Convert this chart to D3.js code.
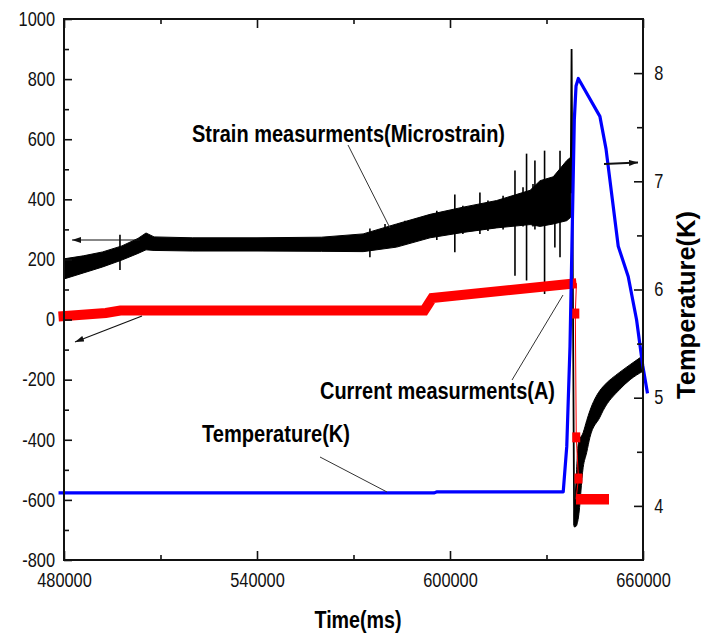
<!DOCTYPE html>
<html lang="en">
<head>
<meta charset="UTF-8">
<title>Strain, current and temperature vs time</title>
<script src="https://d3js.org/d3.v7.min.js"></script>
<style>
  body { margin: 0; background: #fff; }
  svg { display: block; font-family: "Liberation Sans", Arial, sans-serif; }
  .tick text { font-size: 19.5px; fill: #111; }
  .tick line { stroke: #111; stroke-width: 1.6; }
</style>
</head>
<body>
<svg width="705" height="633"></svg>
<script>
// ---- values ----
// strain: noisy band (low / high envelope), microstrain
const strainTime = [480000, 486000, 492000, 498000, 503000, 505500, 508000, 520000, 540000, 560000, 573000, 583400, 593800, 604100, 614500, 624900, 628000, 632100, 636300, 637500];
const strainLow  = [135, 155, 175, 198, 220, 232, 230, 228, 228, 227, 226, 241, 272, 290, 305, 316, 310, 318, 329, 340];
const strainHigh = [202, 212, 225, 245, 270, 288, 275, 272, 272, 274, 285, 318, 350, 374, 396, 430, 462, 475, 529, 540];

// isolated spikes in the strain signal
const spikeTime = [497400, 575100, 579800, 586000, 595900, 601500, 604000, 609300, 611800, 616500, 620200, 622700, 623800, 625800, 626400, 629400, 632600, 634200];
const spikeLow  = [165, 207, 238, 250, 265, 224, 285, 285, 295, 300, 146, 310, 130, 310, 300, 85, 240, 207];
const spikeHigh = [282, 303, 318, 329, 362, 416, 379, 423, 396, 412, 496, 440, 552, 451, 529, 562, 480, 562];

// the quench: strain jumps to 900 then drops
const dropTime = [637500, 637800, 638600];
const dropVal  = [420, 900, -685];

// strain recovery after the quench
const recoveryTime = [638600, 639200, 639900, 641400, 642500, 643500, 646600, 647600, 652800, 656000, 660000];
const recoveryHigh = [-650, -535, -412, -376, -336, -303, -236, -223, -175, -150, -120];
const recoveryLow  = [-690, -688, -660, -492, -442, -392, -325, -303, -232, -200, -172];

// current (A)
const currentTime = [478300, 493000, 497500, 592000, 593200, 594500, 639300];
const currentVal  = [10, 22, 30, 30, 50, 72, 121];
const currentDropTime = [638960, 639250, 639940];
const currentDropVal  = [20, -392, -529];
const currentTailTime = [639170, 649430];
const currentTailVal  = [-598, -598];

// temperature (K), right axis
const tempTime = [478300, 595000, 596000, 635200, 636300, 637300, 637900, 638650, 639180, 639890, 646600, 648500, 652300, 655400, 658000, 659900, 661400];
const tempVal  = [4.12, 4.12, 4.13, 4.13, 4.55, 5.47, 6.4, 7.57, 7.88, 7.95, 7.60, 7.30, 6.40, 6.12, 5.72, 5.30, 5.04];

// axis ticks
const xTicks = [480000, 540000, 600000, 660000];
const xMinor = [510000, 570000, 630000];
const yTicks = [-800, -600, -400, -200, 0, 200, 400, 600, 800, 1000];
const yMinor = [-700, -500, -300, -100, 100, 300, 500, 700, 900];
const tTicks = [4, 5, 6, 7, 8];
const tMinor = [4.5, 5.5, 6.5, 7.5];

const svg = d3.select("svg");

const x = d3.scaleLinear().domain([480000, 660000]).range([64, 643]);
const yL = d3.scaleLinear().domain([-800, 1000]).range([560, 19]);
const yR = d3.scaleLinear().domain([3.5, 8.5]).range([560, 19]);

const zip = (t, a, b) => t.map((d, i) => ({ t: d, a: a[i], b: b ? b[i] : null }));

// ---- strain (black) ----
const band = d3.area().x(d => x(d.t)).y0(d => yL(d.a)).y1(d => yL(d.b));

svg.append("path")
    .datum(zip(strainTime, strainLow, strainHigh))
    .attr("d", band)
    .attr("fill", "#000").attr("stroke", "#000").attr("stroke-width", 1);

svg.selectAll(".spike")
    .data(zip(spikeTime, spikeLow, spikeHigh))
    .enter().append("line")
    .attr("class", "spike")
    .attr("x1", d => x(d.t)).attr("x2", d => x(d.t))
    .attr("y1", d => yL(d.a)).attr("y2", d => yL(d.b))
    .attr("stroke", "#000").attr("stroke-width", 1.6);

svg.append("path")
    .datum(zip(dropTime, dropVal))
    .attr("d", d3.line().x(d => x(d.t)).y(d => yL(d.a)))
    .attr("fill", "none").attr("stroke", "#000").attr("stroke-width", 1.8);

svg.append("path")
    .datum(zip(recoveryTime, recoveryLow, recoveryHigh))
    .attr("d", band.curve(d3.curveMonotoneX))
    .attr("fill", "#000").attr("stroke", "#000").attr("stroke-width", 1);

// ---- current (red) ----
const lineL = d3.line().x(d => x(d.t)).y(d => yL(d.a));

svg.append("path")
    .datum(zip(currentTime, currentVal))
    .attr("d", lineL)
    .attr("fill", "none").attr("stroke", "#ff0000").attr("stroke-width", 10);

// thin trace through the sparse samples of the drop
const dropTrace = zip(currentTime.slice(-1), currentVal.slice(-1))
    .concat(zip(currentDropTime, currentDropVal))
    .concat(zip(currentTailTime.slice(0, 1), currentTailVal.slice(0, 1)));
svg.append("path")
    .datum(dropTrace)
    .attr("d", lineL)
    .attr("fill", "none").attr("stroke", "#ff0000").attr("stroke-width", 1);

svg.selectAll(".cdrop")
    .data(zip(currentDropTime, currentDropVal))
    .enter().append("rect")
    .attr("class", "cdrop")
    .attr("x", d => x(d.t) - 4).attr("y", d => yL(d.a) - 5)
    .attr("width", 8).attr("height", 10)
    .attr("fill", "#ff0000");

svg.append("path")
    .datum(zip(currentTailTime, currentTailVal))
    .attr("d", lineL)
    .attr("fill", "none").attr("stroke", "#ff0000").attr("stroke-width", 10.5);

// ---- temperature (blue) ----
svg.append("path")
    .datum(zip(tempTime, tempVal))
    .attr("d", d3.line().x(d => x(d.t)).y(d => yR(d.a)))
    .attr("fill", "none").attr("stroke", "#0000ff").attr("stroke-width", 3.2)
    .attr("stroke-linejoin", "round");

// ---- axes ----
const sx = 0.84;
const plain = d => String(d);
const noDomain = g => g.select(".domain").remove();

svg.append("g").attr("transform", "translate(0,560)")
    .call(d3.axisBottom(x).tickValues(xTicks).tickSize(-9).tickPadding(13).tickFormat(plain))
    .call(noDomain)
    .call(g => g.selectAll("text").attr("transform", `scale(${sx},1)`));
svg.append("g").attr("transform", "translate(0,560)")
    .call(d3.axisBottom(x).tickValues(xMinor).tickSize(-5).tickFormat(""))
    .call(noDomain);
svg.append("g").attr("transform", "translate(0,19)")
    .call(d3.axisTop(x).tickValues(xTicks).tickSize(-9).tickFormat(""))
    .call(noDomain);
svg.append("g").attr("transform", "translate(0,19)")
    .call(d3.axisTop(x).tickValues(xMinor).tickSize(-5).tickFormat(""))
    .call(noDomain);

svg.append("g").attr("transform", "translate(64,0)")
    .call(d3.axisLeft(yL).tickValues(yTicks).tickSize(-8).tickPadding(10.7).tickFormat(plain))
    .call(noDomain)
    .call(g => g.selectAll("text").attr("transform", `scale(${sx},1)`));
svg.append("g").attr("transform", "translate(64,0)")
    .call(d3.axisLeft(yL).tickValues(yMinor).tickSize(-5).tickFormat(""))
    .call(noDomain);

svg.append("g").attr("transform", "translate(643,0)")
    .call(d3.axisRight(yR).tickValues(tTicks).tickSize(-9).tickPadding(13.5).tickFormat(plain))
    .call(noDomain)
    .call(g => g.selectAll("text").attr("transform", `scale(${sx},1)`));
svg.append("g").attr("transform", "translate(643,0)")
    .call(d3.axisRight(yR).tickValues(tMinor).tickSize(-6).tickFormat(""))
    .call(noDomain);

svg.append("rect")
    .attr("x", 64).attr("y", 19).attr("width", 579).attr("height", 541)
    .attr("fill", "none").attr("stroke", "#111").attr("stroke-width", 2);

// ---- titles ----
svg.append("text")
    .attr("x", 358).attr("y", 628).attr("text-anchor", "middle")
    .attr("font-size", 23).attr("font-weight", "bold")
    .attr("textLength", 87).attr("lengthAdjust", "spacingAndGlyphs")
    .text("Time(ms)");

svg.append("text")
    .attr("transform", "translate(695,305) rotate(-90)")
    .attr("text-anchor", "middle")
    .attr("font-size", 25).attr("font-weight", "bold")
    .attr("textLength", 188).attr("lengthAdjust", "spacingAndGlyphs")
    .text("Temperature(K)");

// ---- annotations ----
const notes = [
  { text: "Strain measurments(Microstrain)", x: 192, y: 142, len: 313, from: [348, 145], to: [390, 228] },
  { text: "Current measurments(A)", x: 320, y: 399, len: 235, from: [512, 380], to: [563, 295] },
  { text: "Temperature(K)", x: 202, y: 442, len: 148, from: [320, 457], to: [387, 492] }
];

svg.selectAll(".note")
    .data(notes)
    .enter().append("text")
    .attr("class", "note")
    .attr("x", d => d.x).attr("y", d => d.y)
    .attr("font-size", 23).attr("font-weight", "bold")
    .attr("textLength", d => d.len).attr("lengthAdjust", "spacingAndGlyphs")
    .text(d => d.text);

svg.selectAll(".leader")
    .data(notes)
    .enter().append("line")
    .attr("class", "leader")
    .attr("x1", d => d.from[0]).attr("y1", d => d.from[1])
    .attr("x2", d => d.to[0]).attr("y2", d => d.to[1])
    .attr("stroke", "#333").attr("stroke-width", 1);

// arrows pointing to the matching axis
svg.append("defs").append("marker")
    .attr("id", "head")
    .attr("markerUnits", "userSpaceOnUse")
    .attr("markerWidth", 9).attr("markerHeight", 6)
    .attr("refX", 9).attr("refY", 3).attr("orient", "auto")
    .append("path").attr("d", "M0,0 L9,3 L0,6 Z").attr("fill", "#111");

const arrows = [
  { from: [140, 240], to: [72, 240], w: 1.2 },
  { from: [142, 316], to: [75, 342], w: 1.2 },
  { from: [604, 164], to: [638, 162.5], w: 2.2 }
];

svg.selectAll(".arrow")
    .data(arrows)
    .enter().append("line")
    .attr("class", "arrow")
    .attr("x1", d => d.from[0]).attr("y1", d => d.from[1])
    .attr("x2", d => d.to[0]).attr("y2", d => d.to[1])
    .attr("stroke", "#111").attr("stroke-width", d => d.w)
    .attr("marker-end", "url(#head)");
</script>
</body>
</html>
